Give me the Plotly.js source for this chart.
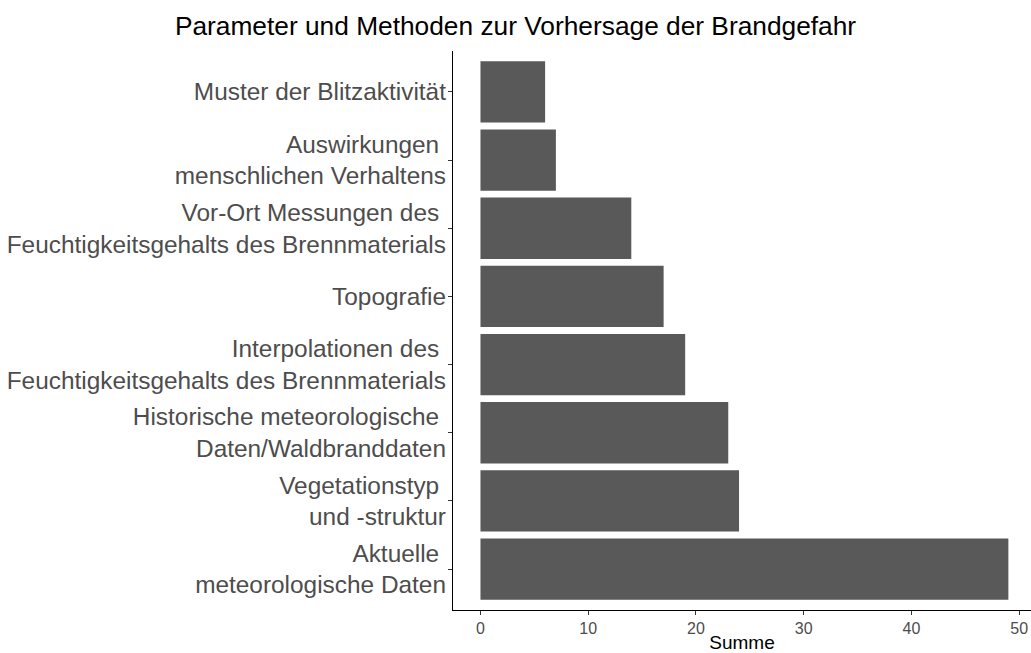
<!DOCTYPE html>
<html>
<head>
<meta charset="utf-8">
<script src="https://cdn.plot.ly/plotly-3.0.1.min.js"></script>
<style>html,body{margin:0;padding:0;background:#fff;}#chart{width:1031px;height:653px;}</style>
</head>
<body>
<div id="chart"></div>
<script>
const categories = [
  "Muster der Blitzaktivität",
  "Auswirkungen\u00a0<br>menschlichen Verhaltens",
  "Vor-Ort Messungen des\u00a0<br>Feuchtigkeitsgehalts des Brennmaterials",
  "Topografie",
  "Interpolationen des\u00a0<br>Feuchtigkeitsgehalts des Brennmaterials",
  "Historische meteorologische\u00a0<br>Daten/Waldbranddaten",
  "Vegetationstyp\u00a0<br>und -struktur",
  "Aktuelle\u00a0<br>meteorologische Daten"
];
const values = [6, 7, 14, 17, 19, 23, 24, 49];
const xTicks = [0, 10, 20, 30, 40, 50];

const trace = {
  type: 'bar',
  orientation: 'h',
  x: values,
  y: categories,
  width: 0.9,
  marker: {color: '#595959'},
  hoverinfo: 'x+y'
};

const layout = {
  width: 1031, height: 653,
  margin: {l: 453, r: 0, t: 51, b: 43},
  paper_bgcolor: '#ffffff', plot_bgcolor: '#ffffff',
  font: {family: 'Liberation Sans, Arial, sans-serif'},
  title: {text: 'Parameter und Methoden zur Vorhersage der Brandgefahr',
          x: 0.5, xref: 'container', xanchor: 'center',
          y: 0.96, yref: 'container', yanchor: 'middle',
          font: {size: 26.3, color: '#000000'}},
  xaxis: {
    range: [-2.55, 51.1], tickvals: xTicks, ticktext: xTicks.map(String),
    showgrid: false, zeroline: false,
    showline: true, linecolor: '#000000', linewidth: 1.3,
    ticks: 'outside', ticklen: 4, tickcolor: '#333333', tickwidth: 1.1,
    tickfont: {size: 16, color: '#4d4d4d'},
    title: {text: 'Summe', font: {size: 19, color: '#000000'}, standoff: 2}
  },
  yaxis: {
    type: 'category', categoryorder: 'array', categoryarray: categories,
    range: [7.6, -0.6],
    showgrid: false, zeroline: false,
    showline: true, linecolor: '#000000', linewidth: 1.3,
    ticks: 'outside', ticklen: 4, tickcolor: '#333333', tickwidth: 1.1,
    ticklabelstandoff: -3,
    tickfont: {size: 24.4, color: '#4d4d4d'}
  },
  showlegend: false,
  bargap: 0.1
};

Plotly.newPlot('chart', [trace], layout, {displayModeBar: false, responsive: false});
</script>
</body>
</html>
